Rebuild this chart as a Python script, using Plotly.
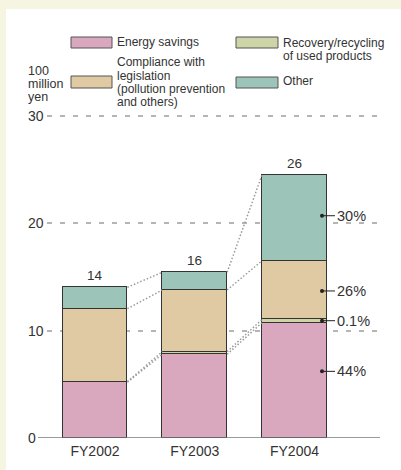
import plotly.graph_objects as go

# ---------------- data ----------------
categories = ["FY2002", "FY2003", "FY2004"]
energy = [5.2, 7.8, 10.75]
recovery = [0.05, 0.25, 0.3]
compliance = [6.8, 5.74, 5.47]
other = [1.99, 1.65, 8.01]
total_labels = ["14", "16", "26"]
pct_labels = ["44%", "0.1%", "26%", "30%"]  # FY2004 shares, bottom to top
y_tick_values = [0, 10, 20, 30]
unit_lines = ["100", "million", "yen"]

# ---------------- style / layout ----------------
colors = {"energy": "#d9a8bf", "recovery": "#cdd4a8", "compliance": "#dfcaa3", "other": "#9dc4b8"}
FONT = "Liberation Sans, Arial, Helvetica, sans-serif"
W, H = 401, 470
L, R, T, B = 47, 380, 100, 438
PX_PER_UNIT = 10.733
X_PX_PER_CAT = 99.75
BAR_W = 0.65
x_left = -(95 - L) / X_PX_PER_CAT
x_right = x_left + (R - L) / X_PX_PER_CAT
y_top = (B - T) / PX_PER_UNIT
pct_label_y = [6.21, 10.93, 13.7, 20.71]


def px(x):
    return (x - L) / (R - L)


def py(y):
    return (B - y) / (B - T)


xs = list(range(len(categories)))
series = [
    ("Energy savings", energy, colors["energy"]),
    ("Recovery/recycling of used products", recovery, colors["recovery"]),
    ("Compliance with legislation", compliance, colors["compliance"]),
    ("Other", other, colors["other"]),
]

fig = go.Figure()
for name, vals, col in series:
    fig.add_trace(go.Bar(
        x=xs, y=vals, name=name, width=BAR_W,
        marker=dict(color=col, line=dict(color="#333333", width=1)),
        showlegend=False, hoverinfo="skip",
    ))

shapes = []
annotations = []

# white panel
shapes.append(dict(type="rect", xref="paper", yref="paper",
                   x0=px(6), x1=px(402), y0=py(471), y1=py(9),
                   fillcolor="white", line=dict(width=0), layer="below"))

# connectors between segment tops
cum = []
run = [0.0] * len(categories)
for _, vals, _ in series:
    run = [a + b for a, b in zip(run, vals)]
    cum.append(list(run))
for tops in cum:
    for i in range(len(categories) - 1):
        shapes.append(dict(type="line", xref="x", yref="y",
                           x0=xs[i] + BAR_W / 2, y0=tops[i],
                           x1=xs[i + 1] - BAR_W / 2, y1=tops[i + 1],
                           line=dict(color="#9a9a9a", width=1.5, dash="1.5px,2px"),
                           layer="above"))

# zero line
shapes.append(dict(type="line", xref="paper", yref="y",
                   x0=px(38), x1=1, y0=0, y1=0,
                   line=dict(color="#7a7a7a", width=1.6), layer="above"))

# y tick labels
for v in y_tick_values:
    annotations.append(dict(xref="paper", yref="y", x=px(26), y=v, text=str(v),
                            xanchor="left", yanchor="middle", showarrow=False,
                            font=dict(size=14, color="#333333", family=FONT)))

# unit label
for k, line in enumerate(unit_lines):
    annotations.append(dict(xref="paper", yref="paper", x=px(26), y=py(71 + 13 * k),
                            text=line, xanchor="left", yanchor="middle", showarrow=False,
                            font=dict(size=12.5, color="#333333", family=FONT)))

# totals
tot = cum[-1]
for i, lab in enumerate(total_labels):
    annotations.append(dict(xref="x", yref="y", x=xs[i], y=tot[i], text=lab,
                            xanchor="center", yanchor="bottom", yshift=2, showarrow=False,
                            font=dict(size=13.5, color="#333333", family=FONT)))

# percent labels for FY2004
last = xs[-1]
dot_x = last + (322 - 294.5) / X_PX_PER_CAT
end_x = last + (335 - 294.5) / X_PX_PER_CAT
for lab, yv in zip(pct_labels, pct_label_y):
    shapes.append(dict(type="line", xref="x", yref="y", x0=dot_x, x1=end_x, y0=yv, y1=yv,
                       line=dict(color="#222222", width=1), layer="above"))
    annotations.append(dict(xref="x", yref="y", x=end_x, y=yv, text=lab,
                            xanchor="left", yanchor="middle", showarrow=False,
                            font=dict(size=14.5, color="#333333", family=FONT)))
fig.add_trace(go.Scatter(x=[dot_x] * len(pct_label_y), y=pct_label_y, mode="markers",
                         marker=dict(size=4, color="#222222"), showlegend=False,
                         hoverinfo="skip", cliponaxis=False))

# custom legend
legend_items = [
    (colors["energy"], 71, 112, 37, 48, 115, [("Energy savings", 42)]),
    (colors["compliance"], 71, 112, 76, 88, 115,
     [("Compliance with", 62), ("legislation", 75.5), ("(pollution prevention", 89), ("and others)", 102)]),
    (colors["recovery"], 236, 278, 37, 48, 281, [("Recovery/recycling", 42.5), ("of used products", 56)]),
    (colors["other"], 236, 278, 77, 88, 281, [("Other", 81)]),
]
for col, x0, x1, y0, y1, tx, lines in legend_items:
    shapes.append(dict(type="rect", xref="paper", yref="paper",
                       x0=px(x0), x1=px(x1), y0=py(y1), y1=py(y0),
                       fillcolor=col, line=dict(color="#555555", width=1)))
    for text, ty in lines:
        annotations.append(dict(xref="paper", yref="paper", x=px(tx), y=py(ty), text=text,
                                xanchor="left", yanchor="middle", showarrow=False,
                                font=dict(size=12, color="#333333", family=FONT)))

fig.update_layout(
    width=W, height=H,
    margin=dict(l=L, r=W - R, t=T, b=H - B, pad=0),
    paper_bgcolor="#f5f5e2",
    plot_bgcolor="white",
    barmode="stack",
    bargap=0,
    font=dict(family=FONT, color="#333333"),
    shapes=shapes,
    annotations=annotations,
    xaxis=dict(range=[x_left, x_right], tickvals=xs, ticktext=categories,
               showgrid=False, zeroline=False, showline=False, ticks="",
               ticklabelstandoff=3,
               tickfont=dict(size=14, color="#333333", family=FONT), fixedrange=True),
    yaxis=dict(range=[0, y_top], tickvals=[v for v in y_tick_values if v > 0],
               showticklabels=False, showgrid=True, gridcolor="#b5b5b5", gridwidth=2,
               griddash="5px,8px", zeroline=False, showline=False, ticks="", fixedrange=True),
)

fig.write_html("out.html", config={"displayModeBar": False},
               post_script="document.body.style.margin='0';document.body.style.overflow='hidden';")
